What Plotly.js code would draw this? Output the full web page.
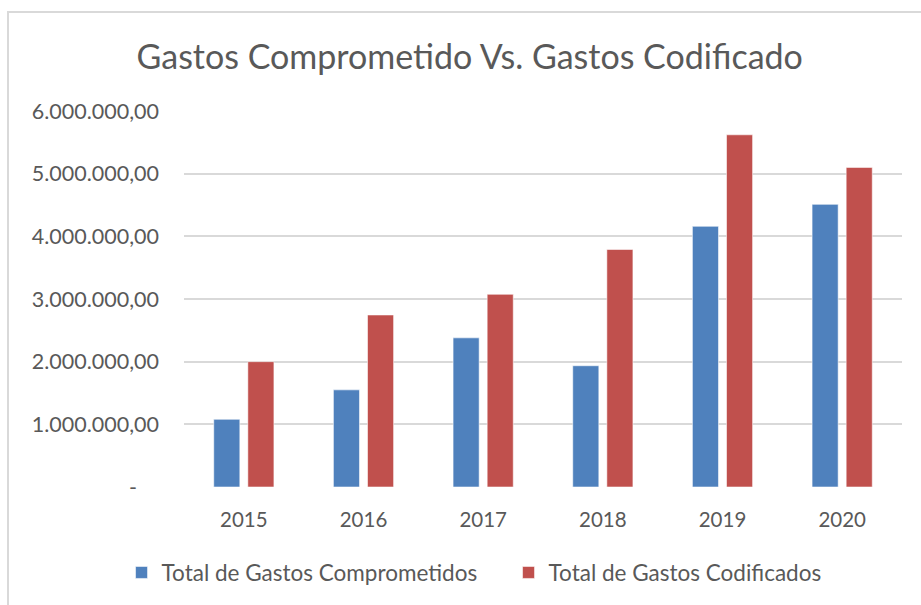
<!DOCTYPE html>
<html>
<head>
<meta charset="utf-8">
<script src="https://cdn.plot.ly/plotly-3.0.1.min.js"></script>
<style>
  html, body { margin: 0; padding: 0; background: #ffffff; }
  #frame { position: absolute; left: 7px; top: 11px; width: 940px; height: 620px; border: 2px solid #d9d9d9; box-sizing: border-box; }
  #chart { position: absolute; left: 0; top: 0; width: 921px; height: 605px; }
</style>
</head>
<body>
<div id="frame"></div>
<div id="chart"></div>
<script>
const years = ["2015", "2016", "2017", "2018", "2019", "2020"];
const comprometidos = [1080000, 1550000, 2380000, 1935000, 4160000, 4510000];
const codificados = [2000000, 2745000, 3075000, 3790000, 5620000, 5100000];
const tickValues = [0, 1000000, 2000000, 3000000, 4000000, 5000000, 6000000];
const tickLabels = ["-\u00a0\u00a0\u00a0\u00a0", "1.000.000,00", "2.000.000,00", "3.000.000,00", "4.000.000,00", "5.000.000,00", "6.000.000,00"];

const FONT = "Lato, 'Noto Sans', sans-serif";
const GRAY = "#595959";

const traces = [
  {
    type: "bar", name: "Total de Gastos Comprometidos", x: years, y: comprometidos,
    marker: { color: "#4f81bd", line: { color: "rgba(255,255,255,0.55)", width: 1 } },
    hoverinfo: "x+y"
  },
  {
    type: "bar", name: "Total de Gastos Codificados", x: years, y: codificados,
    marker: { color: "#c0504d", line: { color: "rgba(255,255,255,0.55)", width: 1 } },
    hoverinfo: "x+y"
  }
];

const layout = {
  width: 921, height: 605,
  margin: { l: 184, r: 19, t: 111, b: 117 },
  paper_bgcolor: "rgba(0,0,0,0)",
  plot_bgcolor: "rgba(0,0,0,0)",
  font: { family: FONT, color: GRAY, size: 21 },
  title: {
    text: "Gastos Comprometido Vs. Gastos Codificado",
    font: { family: FONT, size: 34, color: GRAY },
    xref: "container", x: 0.51, xanchor: "center",
    yref: "container", y: 0.906, yanchor: "middle"
  },
  barmode: "group",
  bargap: 0.43,
  bargroupgap: 0.235,
  xaxis: {
    type: "category",
    tickfont: { family: FONT, size: 20.5, color: GRAY },
    showgrid: false, zeroline: false, showline: false,
    ticks: "", ticklabelstandoff: 18
  },
  yaxis: {
    range: [0, 6000000],
    tickvals: tickValues, ticktext: tickLabels,
    tickfont: { family: FONT, size: 21.5, color: GRAY },
    showgrid: true, gridcolor: "#d9d9d9", gridwidth: 2,
    zeroline: false, showline: false, ticks: "",
    ticklabelstandoff: 24, fixedrange: true
  },
  legend: {
    orientation: "h",
    x: -0.087, xanchor: "left",
    y: -0.225, yanchor: "middle",
    entrywidth: 342, entrywidthmode: "pixels",
    font: { family: FONT, size: 22.5, color: GRAY },
    itemclick: false
  },
  showlegend: true
};

Plotly.newPlot("chart", traces, layout, { displayModeBar: false, staticPlot: true });
</script>
</body>
</html>
